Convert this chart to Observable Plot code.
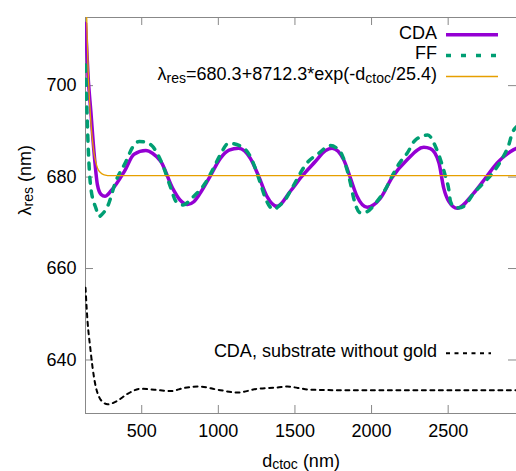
<!DOCTYPE html>
<html>
<head>
<meta charset="utf-8">
<script src="https://cdn.jsdelivr.net/npm/d3@7"></script>
<script src="https://cdn.jsdelivr.net/npm/@observablehq/plot@0.6"></script>
<style>
  html, body { margin: 0; padding: 0; background: #fff; }
  #chart svg { display: block; }
</style>
</head>
<body>
<div id="chart"></div>
<script>
// ---------- data ----------
const xTicks = [500, 1000, 1500, 2000, 2500];
const yTicks = [640, 660, 680, 700];

const cdaD = [133,150,168,190,211,235,260,300,386,450,527,570,625,701,750,799,840,882,947,1013,1070,1132,1209,1263,1317,1383,1470,1546,1633,1700,1742,1818,1862,1905,1971,2058,2134,2232,2341,2384,2439,2471,2504,2559,2667,2744,2820,2928,2946];
const cdaL = [713.6,702,694.3,684.9,678.3,676.2,675.8,677.0,681.2,685.0,685.8,685.2,683.4,677.6,675.0,674.0,674.6,676.5,680.2,684.1,685.9,686.3,684.1,680.2,675.8,673.6,676.9,680.2,683.4,685.8,686.3,683.8,679.8,675.8,673.4,675.4,679.9,683.8,686.5,686.2,683.2,677.6,674.7,673.2,676.5,679.8,683.1,686.0,686.3];

const ffD = [133,142,150,168,201,222,245,277,331,397,440,484,530,571,636,690,723,770,830,915,969,1013,1067,1143,1209,1274,1307,1361,1400,1437,1481,1579,1655,1731,1770,1807,1840,1862,1883,1927,1960,2036,2090,2134,2177,2232,2286,2367,2417,2450,2482,2504,2515,2536,2570,2602,2667,2740,2798,2853,2896,2918,2946];
const ffL = [704.5,695,687.1,677.6,673.2,671.4,672.0,673.6,679.1,683.4,686.5,687.8,687.6,686.7,682.7,677.6,674.7,673.9,675.5,678.7,682.0,684.9,687.4,686.8,684.5,678.7,675.4,672.9,673.8,675.1,677.6,683.1,685.2,686.9,686.4,684.9,681.6,678.7,675.4,672.2,672.3,674.7,677.3,680.2,682.8,685.2,688.1,689.2,686.7,683.8,680.2,677.3,674.7,673.6,673.3,673.6,676.5,679.0,681.2,684.1,687.1,689.6,691.0];

const fitD = [133,141,150,168,180,190,200,211,230,255,300,2946];
const fitL = [720,714.6,703.5,692.1,687.6,684.9,683.3,682.0,681.0,680.5,680.3,680.3];

const subD = [133,146,164,179,201,222,250,277,342,407,494,582,690,778,876,995,1126,1256,1387,1450,1518,1601,1800,2200,2600,2946];
const subL = [655.8,648.6,642.7,638.4,634.0,631.9,630.7,630.3,631.1,632.6,633.7,633.5,633.2,633.9,634.2,633.5,632.9,633.7,634.0,634.2,633.9,633.5,633.4,633.4,633.4,633.4];

const seriesNames = ["CDA", "FF", "fit", "CDA, substrate without gold"];
const xLabel = "dctoc (nm)";
const yLabel = "λres (nm)";

// ---------- layout ----------
const W = 516, H = 471;
const mL = 85, mR = 0, mT = 17, mB = 58;
const plotW = W - mL - mR, plotH = H - mT - mB;
const FONT = "'Liberation Sans', Arial, Helvetica, sans-serif";
const FS = 18;

const rows = (xs, ys) => xs.map((d, i) => ({d, l: ys[i]}));
const cda = rows(cdaD, cdaL), ff = rows(ffD, ffL), fit = rows(fitD, fitL), sub = rows(subD, subL);

const C = {cda: "#9400D3", ff: "#009E73", fit: "#E69F00", sub: "#000000"};
const gray = "#888888";

const chart = Plot.plot({
  width: W, height: H,
  marginLeft: mL, marginRight: mR, marginTop: mT, marginBottom: mB,
  style: {fontFamily: FONT, fontSize: FS + "px", color: "#000", background: "#fff", overflow: "visible"},
  x: {domain: [133, 2946]},
  y: {domain: [628.3, 714.9]},
  marks: [
    Plot.frame({stroke: gray}),
    Plot.tickX(xTicks, {x: d => d, insetTop: plotH - 8, stroke: gray}),
    Plot.tickX(xTicks, {x: d => d, insetBottom: plotH - 8, stroke: gray}),
    Plot.tickY(yTicks, {y: d => d, insetRight: plotW - 8, stroke: gray}),
    Plot.tickY(yTicks, {y: d => d, insetLeft: plotW - 8, stroke: gray}),
    Plot.axisX({ticks: xTicks, tickFormat: d => String(d), tickSize: 0, tickPadding: 11, label: null, fontSize: FS}),
    Plot.axisY({ticks: yTicks, tickFormat: d => String(d), tickSize: 0, tickPadding: 9, label: null, fontSize: FS}),
    Plot.line(cda, {x: "d", y: "l", stroke: C.cda, strokeWidth: 3.5, curve: "monotone-x", clip: true}),
    Plot.line(ff, {x: "d", y: "l", stroke: C.ff, strokeWidth: 3.5, strokeDasharray: "6,8", curve: "monotone-x", clip: true}),
    Plot.line(fit, {x: "d", y: "l", stroke: C.fit, strokeWidth: 1.3, curve: "monotone-x", clip: true}),
    Plot.line(sub, {x: "d", y: "l", stroke: C.sub, strokeWidth: 2, strokeDasharray: "4,4.5", curve: "monotone-x", clip: true}),
    Plot.text([xLabel], {frameAnchor: "bottom", dy: 53, lineAnchor: "bottom", fontSize: FS}),
    Plot.text([yLabel], {frameAnchor: "left", dx: -55, rotate: -90, lineAnchor: "bottom", fontSize: FS})
  ]
});
document.getElementById("chart").appendChild(chart);

// ---------- subscripts ----------
const NS = "http://www.w3.org/2000/svg";
function fillParts(t, parts, fs) {
  t.textContent = "";
  let shifted = false;
  const shift = fs * 0.15;
  parts.forEach(([s, isSub]) => {
    const ts = document.createElementNS(NS, "tspan");
    ts.textContent = s;
    if (isSub) {
      ts.setAttribute("font-size", (fs * 0.78).toFixed(2));
      if (!shifted) { ts.setAttribute("dy", shift.toFixed(2)); shifted = true; }
    } else if (shifted) {
      ts.setAttribute("dy", (-shift).toFixed(2)); shifted = false;
    }
    t.appendChild(ts);
  });
}
const partsMap = {
  [xLabel]: [["d", false], ["ctoc", true], [" (nm)", false]],
  [yLabel]: [["λ", false], ["res", true], [" (nm)", false]]
};
chart.querySelectorAll("text").forEach(t => {
  const p = partsMap[t.textContent];
  if (p) fillParts(t, p, FS);
});

// ---------- legend (gnuplot style) ----------
const svg = d3.select(chart);
const lg = svg.append("g").attr("font-family", FONT).attr("font-size", FS).attr("fill", "#000");
const legendItems = [
  {parts: [[seriesNames[0], false]], color: C.cda, w: 3.5, dash: null, base: 38.5, x2: 498},
  {parts: [[seriesNames[1], false]], color: C.ff, w: 3.5, dash: "5,10", base: 59.3, x2: 498},
  {parts: [["λ", false], ["res", true], ["=680.3+8712.3*exp(-d", false], ["ctoc", true], ["/25.4)", false]], color: C.fit, w: 1.3, dash: null, base: 80.3, x2: 498},
  {parts: [[seriesNames[3], false]], color: C.sub, w: 2, dash: "4,4.5", base: 357, x2: 491}
];
legendItems.forEach(it => {
  const t = lg.append("text").attr("x", 437).attr("y", it.base).attr("text-anchor", "end").node();
  fillParts(t, it.parts, FS);
  const ln = lg.append("line")
    .attr("x1", 446).attr("x2", it.x2)
    .attr("y1", it.base - 3.8).attr("y2", it.base - 3.8)
    .attr("stroke", it.color).attr("stroke-width", it.w);
  if (it.dash) ln.attr("stroke-dasharray", it.dash);
});
</script>
</body>
</html>
